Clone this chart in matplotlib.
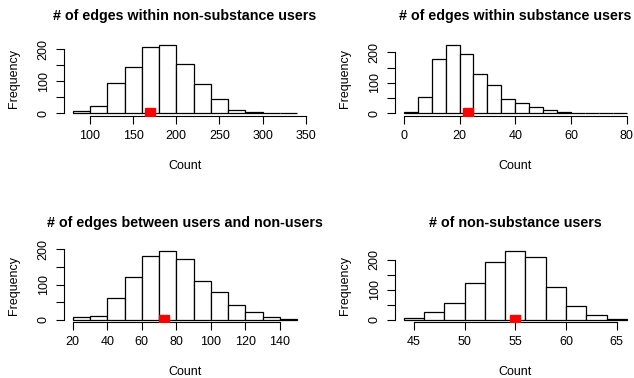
import numpy as np
import matplotlib
matplotlib.use("Agg")
import matplotlib.pyplot as plt

plt.rcParams['font.family'] = ['Liberation Sans', 'DejaVu Sans']

W, H = 634, 378

# bin edges and counts
edges1 = np.arange(80, 341, 20)
counts1 = [7, 22, 96, 145, 206, 215, 155, 91, 45, 12, 3, 1, 1]
obs1 = 170

edges2 = np.arange(0, 81, 5)
counts2 = [3, 55, 179, 226, 195, 129, 94, 48, 33, 20, 10, 3, 2, 2, 1, 1]
obs2 = 23

edges3 = np.arange(20, 151, 10)
counts3 = [7, 11, 63, 120, 180, 195, 173, 109, 78, 41, 21, 7, 3]
obs3 = 73

edges4 = np.arange(44, 67, 2)
counts4 = [4, 24, 56, 122, 191, 228, 207, 108, 46, 15, 1]
obs4 = 55

titles = ["# of edges within non-substance users",
          "# of edges within substance users",
          "# of edges between users and non-users",
          "# of non-substance users"]
xticks_all = [np.arange(100, 351, 50), np.arange(0, 81, 20),
              np.arange(20, 141, 20), np.arange(45, 66, 5)]
yticks = [0, 50, 100, 150, 200]
ylabels = ["0", "", "100", "", "200"]

panels = [(edges1, counts1, obs1), (edges2, counts2, obs2),
          (edges3, counts3, obs3), (edges4, counts4, obs4)]

# plot regions in pixels (left, right, top, bottom)
boxes = [(63.8, 306.0, 41.8, 116.1), (394.8, 635.8, 41.8, 116.1),
         (63.8, 306.0, 248.4, 322.4), (394.8, 635.8, 248.4, 322.4)]

fig = plt.figure(figsize=(W / 100, H / 100), dpi=100)

for (edges, counts, obs), (l, r, t, b), title, xt in zip(panels, boxes, titles, xticks_all):
    ax = fig.add_axes([l / W, 1 - b / H, (r - l) / W, (b - t) / H])
    ax.bar(edges[:-1], counts, width=np.diff(edges), align='edge',
           color='white', edgecolor='black', linewidth=0.9)
    ax.plot([obs], [0], marker='s', color='red', markersize=7.6,
            linestyle='none', clip_on=True, zorder=5)
    span = edges[-1] - edges[0]
    ax.set_xlim(edges[0] - 0.04 * span, edges[-1] + 0.04 * span)
    ymax = max(counts)
    ax.set_ylim(-0.04 * ymax, 1.04 * ymax)
    for s in ['top', 'right']:
        ax.spines[s].set_visible(False)
    ax.spines['bottom'].set_bounds(xt[0], xt[-1])
    ax.spines['left'].set_bounds(0, 200)
    ax.set_xticks(xt)
    ax.set_yticks(yticks)
    ax.set_yticklabels(ylabels, rotation=90, va='center')
    ax.tick_params(length=5.6, width=0.8, labelsize=9, pad=4.5)
    ax.set_title(title, fontsize=10.3, fontweight='bold', pad=15.5)
    ax.set_xlabel("Count", fontsize=9, va='center')
    ax.xaxis.set_label_coords(0.5, -50 / (b - t))
    ax.set_ylabel("Frequency", fontsize=9, va='center')
    ax.yaxis.set_label_coords(-50 / (r - l), 0.5)

fig.savefig("out.png", dpi=100)
